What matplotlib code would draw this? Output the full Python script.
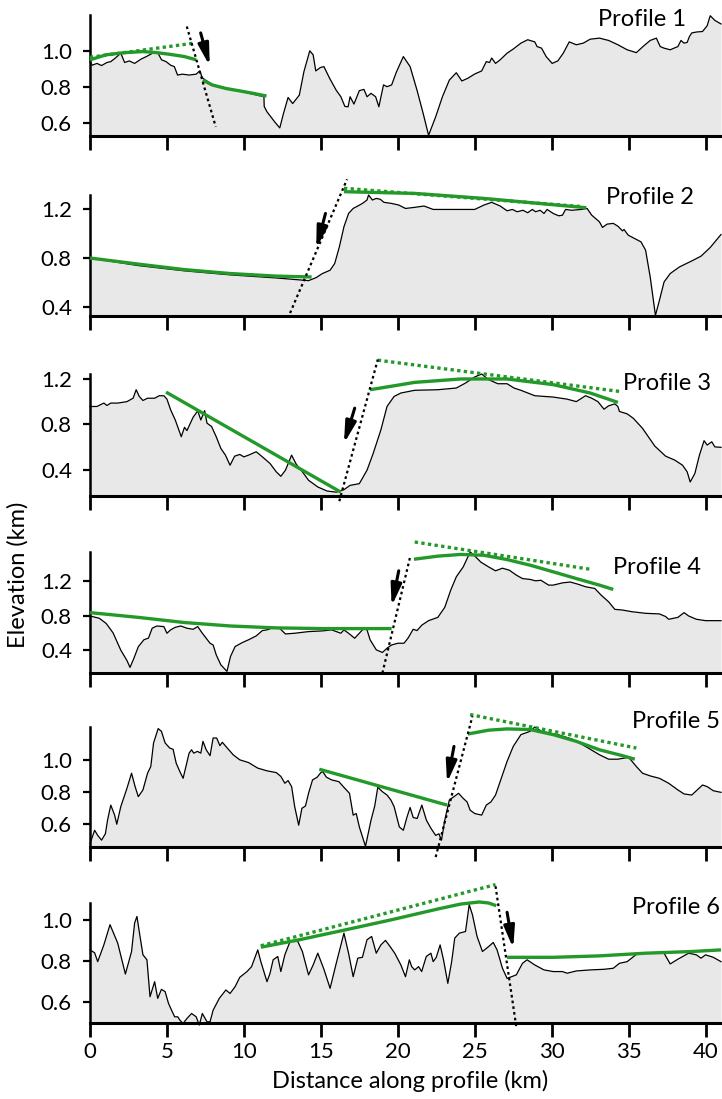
import numpy as np
import matplotlib
matplotlib.use('Agg')
import matplotlib.pyplot as plt

plt.rcParams['font.family'] = ['Lato', 'DejaVu Sans']

# elevation profiles: (distance km, elevation km)
p1_pts = [(0, 0.94), (0.15, 0.92), (0.45, 0.93), (0.75, 0.918), (1.1, 0.935), (1.35, 0.94), (1.65, 0.96),
          (2.0, 0.987), (2.25, 0.935), (2.55, 0.944), (2.9, 0.93), (3.3, 0.953), (3.75, 0.972), (4.13, 0.99),
          (4.4, 0.99), (4.65, 0.95), (4.94, 0.94), (5.24, 0.92), (5.48, 0.912), (5.69, 0.865), (6.0, 0.87),
          (6.44, 0.865), (6.9, 0.87), (7.13, 0.888), (7.3, 0.85), (7.5, 0.837), (8.0, 0.81), (9.0, 0.79),
          (10.0, 0.77), (11.0, 0.75), (11.3, 0.745), (11.32, 0.69), (11.5, 0.66), (12.0, 0.604), (12.33, 0.57),
          (12.57, 0.65), (12.87, 0.74), (13.17, 0.706), (13.6, 0.753), (13.9, 0.884), (14.28, 1.0), (14.5, 0.978),
          (14.67, 0.888), (14.97, 0.907), (15.2, 0.912), (15.57, 0.847), (16.0, 0.78), (16.3, 0.744),
          (16.56, 0.69), (16.77, 0.688), (16.9, 0.744), (17.15, 0.703), (17.5, 0.778), (17.8, 0.785),
          (18.0, 0.744), (18.26, 0.763), (18.56, 0.744), (18.77, 0.688), (19.07, 0.81), (19.3, 0.8), (19.6, 0.81),
          (19.9, 0.88), (20.36, 0.968), (20.8, 0.912), (21.25, 0.78), (21.65, 0.65), (22.0, 0.529), (22.46, 0.632),
          (22.9, 0.744), (23.35, 0.837), (23.8, 0.878), (24.16, 0.832), (24.55, 0.847), (25.0, 0.871),
          (25.45, 0.888), (25.75, 0.94), (25.96, 0.935), (26.1, 0.96), (26.35, 0.93), (26.65, 0.95), (27.1, 0.987),
          (27.5, 1.01), (28.0, 1.043), (28.44, 1.062), (28.9, 1.05), (29.05, 1.024), (29.34, 1.015), (29.64, 0.968),
          (30.03, 0.93), (30.4, 0.944), (30.75, 0.987), (31.14, 1.05), (31.6, 1.034), (32.05, 1.043), (32.5, 1.065),
          (33.1, 1.071), (33.7, 1.058), (34.3, 1.034), (34.9, 1.006), (35.5, 0.99), (35.93, 1.024), (36.4, 1.058),
          (36.8, 1.071), (37.05, 1.024), (37.3, 1.015), (37.7, 1.006), (38.2, 1.024), (38.4, 1.058), (38.6, 1.043),
          (38.8, 1.047), (38.95, 1.08), (39.1, 1.1), (39.4, 1.105), (39.8, 1.108), (40.1, 1.14), (40.3, 1.196),
          (40.6, 1.17), (41.0, 1.15)]

p2_pts = [(0, 0.8), (3.14, 0.738), (6.14, 0.695), (9.13, 0.662), (12.1, 0.637), (14.2, 0.615), (14.7, 0.64),
          (15.1, 0.673), (15.6, 0.7), (15.9, 0.755), (16.2, 0.89), (16.5, 1.055), (16.8, 1.164), (17.1, 1.205),
          (17.4, 1.225), (17.7, 1.246), (18.0, 1.274), (18.1, 1.315), (18.35, 1.274), (18.6, 1.287), (18.86, 1.28),
          (19.1, 1.255), (19.6, 1.246), (20.06, 1.233), (20.5, 1.205), (21.1, 1.214), (21.7, 1.225), (22.3, 1.197),
          (23.2, 1.197), (24.1, 1.197), (25.0, 1.197), (25.6, 1.233), (26.1, 1.255), (26.65, 1.225), (27.1, 1.186),
          (27.45, 1.197), (27.75, 1.178), (28.14, 1.19), (28.44, 1.17), (28.74, 1.197), (28.95, 1.178),
          (29.25, 1.19), (29.5, 1.164), (29.7, 1.197), (30.1, 1.164), (30.45, 1.145), (30.7, 1.15), (30.9, 1.197),
          (31.3, 1.19), (31.9, 1.197), (32.3, 1.205), (32.6, 1.15), (33.1, 1.096), (33.3, 1.05), (33.6, 1.077),
          (34.0, 1.083), (34.3, 1.06), (34.6, 1.022), (34.7, 1.033), (34.97, 0.987), (35.3, 0.965), (35.8, 0.932),
          (36.1, 0.864), (36.4, 0.645), (36.74, 0.331), (37.0, 0.454), (37.3, 0.604), (37.7, 0.673), (38.3, 0.727),
          (39.1, 0.776), (39.7, 0.815), (40.3, 0.886), (41.0, 0.992)]

p3_pts = [(0, 0.957), (0.45, 0.957), (0.9, 0.987), (1.1, 0.966), (1.35, 0.987), (1.8, 0.987), (2.4, 1.0),
          (2.8, 1.03), (3.0, 1.105), (3.2, 1.046), (3.44, 1.01), (3.74, 1.03), (4.2, 1.03), (4.5, 1.052),
          (4.8, 1.052), (5.0, 1.022), (5.24, 0.927), (5.54, 0.838), (5.93, 0.69), (6.14, 0.773), (6.3, 0.744),
          (6.7, 0.862), (7.0, 0.918), (7.2, 0.838), (7.45, 0.92), (7.6, 0.81), (7.9, 0.78), (8.2, 0.69),
          (8.5, 0.587), (8.8, 0.527), (9.1, 0.438), (9.4, 0.518), (9.73, 0.533), (10.0, 0.512), (10.3, 0.527),
          (10.8, 0.557), (11.2, 0.512), (11.7, 0.453), (12.1, 0.38), (12.4, 0.34), (12.7, 0.394), (13.1, 0.527),
          (13.4, 0.447), (13.8, 0.38), (14.2, 0.305), (14.8, 0.246), (15.4, 0.21), (16.0, 0.2), (16.5, 0.222),
          (16.9, 0.26), (17.5, 0.275), (18.0, 0.394), (18.4, 0.542), (18.9, 0.75), (19.3, 0.957), (19.76, 1.046),
          (20.2, 1.076), (21.1, 1.1), (22.6, 1.105), (23.8, 1.12), (24.4, 1.164), (25.0, 1.218), (25.45, 1.244),
          (25.9, 1.194), (26.5, 1.158), (27.1, 1.158), (27.55, 1.12), (28.0, 1.1), (28.9, 1.052), (30.1, 1.04),
          (31.0, 1.022), (31.6, 1.0), (32.2, 1.052), (32.6, 1.03), (33.0, 1.0), (33.4, 0.933), (33.7, 0.963),
          (34.1, 0.98), (34.3, 0.957), (34.4, 0.913), (34.9, 0.892), (35.3, 0.853), (35.9, 0.764), (36.7, 0.607),
          (37.4, 0.518), (38.0, 0.483), (38.5, 0.438), (38.8, 0.38), (39.0, 0.29), (39.3, 0.364), (39.6, 0.527),
          (39.9, 0.655), (40.1, 0.616), (40.4, 0.645), (40.6, 0.6), (41.0, 0.596)]

p4_pts = [(0, 0.796), (0.6, 0.77), (1.05, 0.71), (1.5, 0.6), (2.0, 0.4), (2.4, 0.28), (2.6, 0.2), (2.84, 0.3),
          (3.14, 0.44), (3.5, 0.52), (3.8, 0.54), (4.04, 0.654), (4.34, 0.68), (4.8, 0.673), (5.0, 0.596),
          (5.24, 0.635), (5.54, 0.665), (5.9, 0.68), (6.3, 0.654), (6.7, 0.642), (7.0, 0.673), (7.3, 0.596),
          (7.8, 0.48), (8.0, 0.46), (8.2, 0.346), (8.5, 0.23), (8.9, 0.154), (9.13, 0.327), (9.43, 0.442),
          (9.9, 0.488), (10.3, 0.52), (10.8, 0.565), (11.2, 0.627), (11.5, 0.635), (11.8, 0.654), (12.28, 0.66),
          (12.7, 0.588), (13.3, 0.596), (14.2, 0.615), (15.1, 0.623), (15.7, 0.635), (16.3, 0.596), (16.5, 0.635),
          (16.8, 0.596), (17.2, 0.538), (17.5, 0.596), (17.8, 0.654), (18.0, 0.635), (18.2, 0.52), (18.6, 0.404),
          (19.0, 0.373), (19.3, 0.423), (19.6, 0.46), (20.0, 0.48), (20.4, 0.48), (20.66, 0.538), (21.0, 0.642),
          (21.25, 0.627), (21.56, 0.69), (22.0, 0.742), (22.6, 0.78), (23.05, 0.896), (23.44, 1.096), (23.8, 1.25),
          (24.25, 1.365), (24.55, 1.48), (24.7, 1.538), (24.9, 1.51), (25.4, 1.42), (25.9, 1.365), (26.35, 1.32),
          (26.8, 1.35), (27.25, 1.327), (27.7, 1.27), (28.1, 1.23), (28.6, 1.22), (28.95, 1.204), (29.3, 1.21),
          (29.8, 1.154), (30.1, 1.154), (30.7, 1.18), (31.2, 1.19), (31.7, 1.165), (32.2, 1.135), (32.8, 1.115),
          (33.2, 1.04), (33.7, 0.96), (34.1, 0.873), (34.6, 0.865), (35.2, 0.846), (36.1, 0.827), (37.0, 0.82),
          (37.4, 0.79), (37.6, 0.758), (38.2, 0.78), (38.6, 0.835), (38.9, 0.796), (39.4, 0.758), (40.0, 0.742),
          (41.0, 0.742)]

p5_pts = [(0, 0.478), (0.15, 0.52), (0.3, 0.562), (0.5, 0.53), (0.75, 0.5), (1.0, 0.54), (1.14, 0.625),
          (1.35, 0.72), (1.6, 0.657), (1.74, 0.6), (2.0, 0.71), (2.4, 0.825), (2.7, 0.92), (2.93, 0.836),
          (3.14, 0.773), (3.44, 0.815), (3.74, 0.92), (3.95, 0.962), (4.13, 1.11), (4.43, 1.2), (4.64, 1.183),
          (4.88, 1.11), (5.18, 1.078), (5.4, 1.07), (5.6, 0.983), (5.84, 0.93), (6.05, 0.888), (6.23, 0.962),
          (6.44, 1.046), (6.6, 1.067), (6.74, 1.046), (6.98, 1.057), (7.2, 1.046), (7.34, 1.12), (7.55, 1.067),
          (7.8, 1.03), (8.0, 1.141), (8.23, 1.141), (8.44, 1.093), (8.6, 1.114), (8.83, 1.088), (9.3, 1.036),
          (9.73, 1.004), (10.3, 0.987), (10.9, 0.952), (11.5, 0.935), (12.1, 0.924), (12.4, 0.9), (12.66, 0.857),
          (12.87, 0.874), (13.1, 0.836), (13.3, 0.71), (13.56, 0.594), (13.77, 0.7), (14.0, 0.714), (14.2, 0.794),
          (14.46, 0.878), (14.76, 0.895), (15.0, 0.924), (15.12, 0.93), (15.36, 0.895), (15.7, 0.878),
          (16.17, 0.867), (16.56, 0.825), (16.86, 0.794), (17.1, 0.657), (17.3, 0.667), (17.5, 0.583),
          (17.9, 0.461), (18.26, 0.625), (18.5, 0.714), (18.7, 0.832), (19.0, 0.804), (19.3, 0.783), (19.55, 0.752),
          (19.76, 0.71), (19.9, 0.657), (20.1, 0.583), (20.36, 0.562), (20.6, 0.646), (20.8, 0.705), (21.0, 0.642),
          (21.26, 0.636), (21.56, 0.72), (21.86, 0.625), (22.16, 0.573), (22.46, 0.53), (22.67, 0.54), (22.84, 0.5),
          (23.05, 0.625), (23.35, 0.752), (23.65, 0.773), (23.95, 0.794), (24.25, 0.762), (24.5, 0.74),
          (24.7, 0.688), (25.0, 0.667), (25.45, 0.657), (25.75, 0.72), (26.05, 0.74), (26.35, 0.783), (26.65, 0.867),
          (27.1, 0.994), (27.5, 1.088), (28.0, 1.162), (28.6, 1.183), (28.9, 1.21), (29.34, 1.183), (29.8, 1.173),
          (30.4, 1.162), (31.3, 1.135), (32.2, 1.088), (33.1, 1.036), (33.7, 1.008), (34.3, 1.008), (35.0, 1.02),
          (35.5, 0.962), (35.9, 0.92), (36.4, 0.903), (37.0, 0.888), (37.6, 0.857), (38.2, 0.815), (38.6, 0.79),
          (39.1, 0.783), (39.4, 0.81), (39.8, 0.846), (40.1, 0.836), (40.5, 0.81), (41.0, 0.8)]

p6_pts = [(0, 0.854), (0.3, 0.84), (0.5, 0.797), (0.9, 0.878), (1.3, 0.976), (1.8, 0.887), (2.3, 0.737),
          (2.7, 0.846), (2.9, 0.984), (3.05, 1.016), (3.2, 0.943), (3.44, 0.83), (3.7, 0.806), (3.9, 0.627),
          (4.2, 0.7), (4.4, 0.619), (4.64, 0.663), (4.88, 0.652), (5.1, 0.595), (5.3, 0.562), (5.5, 0.53),
          (5.7, 0.53), (5.84, 0.514), (6.05, 0.498), (6.3, 0.522), (6.6, 0.546), (6.9, 0.53), (7.1, 0.49),
          (7.3, 0.546), (7.6, 0.506), (7.8, 0.506), (8.0, 0.562), (8.4, 0.619), (8.83, 0.66), (9.1, 0.643),
          (9.43, 0.676), (9.73, 0.721), (10.2, 0.749), (10.5, 0.773), (10.9, 0.854), (11.1, 0.797), (11.5, 0.7),
          (11.7, 0.741), (11.9, 0.806), (12.2, 0.822), (12.4, 0.749), (12.66, 0.83), (13.0, 0.895), (13.5, 0.895),
          (13.8, 0.846), (14.2, 0.733), (14.5, 0.781), (14.8, 0.838), (15.2, 0.76), (15.6, 0.668), (16.0, 0.789),
          (16.5, 0.935), (16.8, 0.838), (17.1, 0.724), (17.4, 0.814), (17.7, 0.818), (18.0, 0.903), (18.3, 0.919),
          (18.6, 0.838), (18.9, 0.878), (19.2, 0.9), (19.5, 0.87), (19.8, 0.838), (20.2, 0.781), (20.5, 0.724),
          (20.75, 0.806), (20.9, 0.773), (21.1, 0.757), (21.35, 0.773), (21.55, 0.749), (21.85, 0.822),
          (22.15, 0.838), (22.3, 0.797), (22.5, 0.818), (22.75, 0.878), (22.97, 0.806), (23.25, 0.692),
          (23.5, 0.797), (23.7, 0.911), (24.0, 0.935), (24.4, 0.943), (24.64, 1.073), (24.85, 1.024),
          (25.15, 0.919), (25.5, 0.846), (25.9, 0.87), (26.2, 0.89), (26.45, 0.854), (26.8, 0.765), (27.1, 0.716),
          (27.7, 0.733), (28.1, 0.789), (28.4, 0.806), (28.9, 0.781), (29.5, 0.757), (30.1, 0.749), (30.7, 0.749),
          (31.0, 0.741), (31.6, 0.752), (32.5, 0.757), (33.4, 0.76), (34.0, 0.765), (34.4, 0.789), (34.9, 0.797),
          (35.6, 0.838), (36.7, 0.841), (37.3, 0.838), (37.7, 0.786), (38.2, 0.809), (38.9, 0.838), (39.4, 0.83),
          (39.7, 0.814), (40.0, 0.83), (40.5, 0.818), (41.0, 0.797)]

# green surface fits (solid) and projected surfaces (dotted)
g1_solid = [[(0, 0.95), (1.05, 0.978), (2.25, 0.99), (3.44, 0.996), (4.34, 0.99), (5.24, 0.98), (6.14, 0.968), (6.9, 0.95)],
            [(7.33, 0.837), (7.93, 0.81), (8.83, 0.79), (9.7, 0.777), (10.6, 0.763), (11.47, 0.748)]]
g1_dot = [[(0, 0.964), (6.74, 1.043)]]
g2_solid = [[(0, 0.8), (3.14, 0.75), (6.14, 0.705), (9.13, 0.673), (12.1, 0.652), (14.4, 0.645)],
            [(16.5, 1.342), (21.1, 1.328), (25.6, 1.287), (32.25, 1.211)]]
g2_dot = [[(16.5, 1.37), (32.0, 1.22)]]
g3_solid = [[(4.94, 1.084), (16.3, 0.2)],
            [(18.2, 1.105), (21.1, 1.17), (24.1, 1.2), (27.1, 1.2), (30.1, 1.15), (32.5, 1.076), (34.3, 0.993)]]
g3_dot = [[(18.7, 1.366), (34.4, 1.09)]]
g4_solid = [[(0, 0.835), (3.14, 0.78), (6.14, 0.72), (9.13, 0.68), (12.1, 0.658), (15.1, 0.65), (19.6, 0.65)],
            [(21.05, 1.454), (22.6, 1.49), (24.1, 1.51), (25.6, 1.5), (27.1, 1.45), (28.6, 1.385), (30.1, 1.308),
             (31.6, 1.23), (33.1, 1.154), (34.0, 1.104)]]
g4_dot = [[(21.1, 1.654), (32.6, 1.335)]]
g5_solid = [[(14.9, 0.945), (23.2, 0.72)],
            [(24.55, 1.166), (25.9, 1.19), (27.1, 1.198), (28.6, 1.194), (30.1, 1.162), (31.6, 1.12), (33.1, 1.067),
             (34.6, 1.03), (35.4, 1.008)]]
g5_dot = [[(24.7, 1.288), (35.5, 1.078)]]
g6_solid = [[(11.1, 0.867), (13.6, 0.903), (16.6, 0.951), (19.6, 1.0), (22.6, 1.052), (24.1, 1.076),
             (25.3, 1.086), (25.9, 1.081), (26.4, 1.068)],
            [(27.1, 0.818), (30.1, 0.818), (33.1, 0.825), (36.1, 0.838), (39.1, 0.846), (41.0, 0.854)]]
g6_dot = [[(11.1, 0.874), (26.35, 1.17)]]

# faults (dotted black) and slip arrows (start -> end)
faults = [[(6.29, 1.136), (8.17, 0.576)],
          [(13.0, 0.35), (16.7, 1.443)],
          [(16.2, 0.12), (18.7, 1.372)],
          [(19.0, 0.135), (20.8, 1.48)],
          [(22.46, 0.394), (24.85, 1.278)],
          [(26.35, 1.162), (27.7, 0.481)]]
arrows = [[(7.19, 1.10), (7.78, 0.916)],
          [(15.3, 1.164), (14.7, 0.878)],
          [(17.2, 0.942), (16.5, 0.63)],
          [(20.06, 1.32), (19.6, 0.91)],
          [(23.65, 1.088), (23.2, 0.86)],
          [(27.1, 1.036), (27.5, 0.862)]]

profiles = [p1_pts, p2_pts, p3_pts, p4_pts, p5_pts, p6_pts]
solids = [g1_solid, g2_solid, g3_solid, g4_solid, g5_solid, g6_solid]
dots = [g1_dot, g2_dot, g3_dot, g4_dot, g5_dot, g6_dot]
names = ['Profile 1', 'Profile 2', 'Profile 3', 'Profile 4', 'Profile 5', 'Profile 6']
ylims = [(0.525, 1.2), (0.326, 1.315), (0.166, 1.244), (0.135, 1.538), (0.457, 1.21), (0.5, 1.081)]
yticks = [[0.6, 0.8, 1.0], [0.4, 0.8, 1.2], [0.4, 0.8, 1.2], [0.4, 0.8, 1.2], [0.6, 0.8, 1.0], [0.6, 0.8, 1.0]]
xticks = [0, 5, 10, 15, 20, 25, 30, 35, 40]

W, H = 722, 1099
panel_px = [(15, 136), (195, 316), (374, 496), (552, 673), (727, 847), (903, 1023)]
name_px = [(686, 19), (694, 197), (711, 383), (701, 567), (720, 721), (720, 907)]

GREEN = '#23992a'
FILL = '#e8e8e8'

fig = plt.figure(figsize=(W / 100, H / 100), dpi=100)

for i in range(6):
    top, bot = panel_px[i]
    ax = fig.add_axes([90 / W, 1 - bot / H, 631 / W, (bot - top) / H])
    x, z = np.array(profiles[i]).T
    lo, hi = ylims[i]
    ax.fill_between(x, z, lo, color=FILL, lw=0, clip_on=False)
    ax.plot(x, z, color='k', lw=0.9, clip_on=False, zorder=3)
    for seg in solids[i]:
        sx, sz = np.array(seg).T
        ax.plot(sx, sz, color=GREEN, lw=2.4, clip_on=False, zorder=4, solid_capstyle='butt')
    for seg in dots[i]:
        sx, sz = np.array(seg).T
        ax.plot(sx, sz, color=GREEN, lw=2.4, ls=(0, (1, 1)), clip_on=False, zorder=4)
    fx, fz = np.array(faults[i]).T
    ax.plot(fx, fz, color='k', lw=1.6, ls=(0, (1.2, 1.4)), clip_on=False, zorder=5)
    (ax0, az0), (ax1, az1) = arrows[i]
    ax.annotate('', xy=(ax1, az1), xytext=(ax0, az0), annotation_clip=False,
                arrowprops=dict(arrowstyle='-|>,head_length=0.65,head_width=0.16', mutation_scale=20,
                                color='k', lw=2.2, shrinkA=0, shrinkB=0), zorder=6)
    ax.set_xlim(0, 41)
    ax.set_ylim(lo, hi)
    ax.set_yticks(yticks[i])
    ax.set_yticklabels(['%.1f' % v for v in yticks[i]])
    ax.set_xticks(xticks)
    ax.spines['top'].set_visible(False)
    ax.spines['right'].set_visible(False)
    ax.spines['left'].set_linewidth(1.8)
    ax.spines['bottom'].set_linewidth(2.2)
    ax.spines['bottom'].set_zorder(7)
    ax.tick_params(axis='y', length=5, width=1.6, labelsize=16, pad=8)
    ax.tick_params(axis='x', length=10, width=2, labelsize=16, pad=4, direction='out')
    if i < 5:
        ax.set_xticklabels([])
    ax.patch.set_alpha(0)
    nx, ny = name_px[i]
    fig.text(nx / W, 1 - ny / H, names[i], ha='right', va='center', fontsize=17)

fig.text(18 / W, 1 - 575 / H, 'Elevation (km)', rotation=90, ha='center', va='center', fontsize=17)
fig.text(410 / W, 1 - 1081 / H, 'Distance along profile (km)', ha='center', va='center', fontsize=17)

fig.savefig('out.png', dpi=100)
